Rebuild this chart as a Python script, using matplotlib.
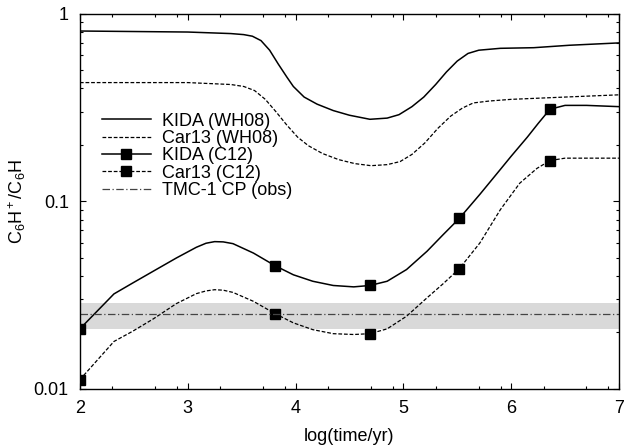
import matplotlib
matplotlib.use("Agg")
import matplotlib.pyplot as plt
import numpy as np
from matplotlib.ticker import FixedLocator, LogLocator, NullFormatter

plt.rcParams['font.family'] = ['Liberation Sans', 'DejaVu Sans']
plt.rcParams['mathtext.fontset'] = 'custom'
plt.rcParams['mathtext.rm'] = 'Liberation Sans'
plt.rcParams['mathtext.it'] = 'Liberation Sans'

# KIDA with WH08 network
kida_wh_x = [2.0, 3.0, 3.4, 3.52, 3.6, 3.68, 3.76, 3.84, 3.92, 3.98, 4.08, 4.2, 4.35, 4.5, 4.69,
             4.85, 4.96, 5.08, 5.19, 5.3, 5.40, 5.5, 5.6, 5.70, 5.9, 6.21, 6.54, 7.0]
kida_wh_y = [0.81, 0.80, 0.785, 0.775, 0.76, 0.72, 0.64, 0.54, 0.46, 0.41, 0.36, 0.33, 0.305, 0.288,
             0.274, 0.278, 0.29, 0.32, 0.36, 0.42, 0.49, 0.56, 0.615, 0.64, 0.655, 0.66, 0.68, 0.70]

# Car13 with WH08 network
car_wh_x = [2.0, 3.0, 3.4, 3.52, 3.62, 3.72, 3.82, 3.92, 4.02, 4.12, 4.25, 4.4, 4.55, 4.7, 4.85,
            4.97, 5.08, 5.2, 5.32, 5.44, 5.55, 5.65, 5.8, 6.0, 6.5, 7.0]
car_wh_y = [0.43, 0.43, 0.42, 0.41, 0.39, 0.35, 0.30, 0.255, 0.22, 0.198, 0.18, 0.167, 0.159, 0.155,
            0.157, 0.163, 0.178, 0.205, 0.245, 0.285, 0.315, 0.335, 0.343, 0.35, 0.36, 0.37]

# KIDA with C12 network
kida_c12_x = [2.0, 2.316, 2.49, 2.68, 2.895, 3.08, 3.17, 3.25, 3.33, 3.42, 3.61, 3.81, 3.98, 4.16,
              4.35, 4.54, 4.69, 4.85, 5.03, 5.22, 5.37, 5.52, 5.71, 5.90, 6.0, 6.15, 6.25, 6.36,
              6.5, 6.7, 7.0]
kida_c12_y = [0.0209, 0.0321, 0.0367, 0.0424, 0.0499, 0.0569, 0.0598, 0.0610, 0.0608, 0.0595, 0.0530,
              0.0454, 0.0406, 0.0375, 0.0356, 0.0350, 0.0356, 0.0375, 0.0433, 0.0542, 0.0665, 0.0812,
              0.109, 0.148, 0.174, 0.22, 0.26, 0.31, 0.325, 0.325, 0.32]
kida_c12_mark = [0, 11, 16, 21, 27]

# Car13 with C12 network
car_c12_x = [2.0, 2.316, 2.49, 2.68, 2.895, 3.08, 3.17, 3.25, 3.33, 3.42, 3.61, 3.81, 3.98, 4.16,
             4.35, 4.54, 4.69, 4.85, 5.03, 5.22, 5.37, 5.52, 5.71, 5.90, 6.08, 6.24, 6.36, 6.5, 7.0]
car_c12_y = [0.0112, 0.0179, 0.0203, 0.0236, 0.0285, 0.0322, 0.0333, 0.0338, 0.0336, 0.0327, 0.0293,
             0.0252, 0.0225, 0.0207, 0.0197, 0.0195, 0.0197, 0.0209, 0.0244, 0.0306, 0.0364, 0.0438,
             0.0600, 0.0903, 0.125, 0.150, 0.165, 0.17, 0.17]
car_c12_mark = [0, 11, 16, 21, 26]

# observed value in TMC-1 CP and its range
obs = 0.025
obs_lo = 0.0209
obs_hi = 0.0287

fig = plt.figure(figsize=(6.29, 4.47), dpi=100)
ax = fig.add_axes([0.127, 0.130, 0.857, 0.839])

ax.axhspan(obs_lo, obs_hi, color='#d9d9d9', lw=0, zorder=0)

ax.plot(kida_wh_x, kida_wh_y, 'k-', lw=1.1, label='KIDA (WH08)')
ax.plot(car_wh_x, car_wh_y, 'k--', lw=0.9, dashes=(3, 1.5), label='Car13 (WH08)')
ax.plot(kida_c12_x, kida_c12_y, 'k-', lw=1.1, marker='s', ms=7, markevery=kida_c12_mark,
        label='KIDA (C12)')
ax.plot(car_c12_x, car_c12_y, 'k--', lw=0.9, dashes=(3, 1.5), marker='s', ms=7,
        markevery=car_c12_mark, label='Car13 (C12)')
ax.axhline(obs, color='#444444', lw=0.9, dashes=(6, 2, 1, 2), label='TMC-1 CP (obs)')

ax.set_yscale('log')
ax.set_xlim(2, 7)
ax.set_ylim(0.01, 1)

ax.set_yticks([0.01, 0.1, 1])
ax.set_yticklabels(['0.01', '0.1', '1'])
ax.yaxis.set_minor_locator(LogLocator(base=10, subs=np.arange(2, 10)))
ax.yaxis.set_minor_formatter(NullFormatter())

ax.set_xticks([2, 3, 4, 5, 6, 7])
minor_x = [d + np.log10(s) for d in range(2, 7) for s in (2, 5, 8)]
ax.xaxis.set_minor_locator(FixedLocator(minor_x))

ax.tick_params(which='both', direction='in', top=True, right=True, labelsize=13, pad=8)
ax.tick_params(which='major', length=4.5, width=0.8)
ax.tick_params(which='minor', length=2.5, width=0.8)
for s in ax.spines.values():
    s.set_linewidth(1.0)

ax.set_xlabel('log(time/yr)', fontsize=13, labelpad=8)
ax.set_ylabel('C$_6$H$^+$/C$_6$H', fontsize=13, labelpad=4)

ax.legend(loc='upper left', bbox_to_anchor=(0.162, 0.748), bbox_transform=fig.transFigure,
          frameon=False, fontsize=13, handlelength=2.7, handletextpad=0.65,
          labelspacing=0.02, borderpad=0, borderaxespad=0)

fig.savefig('out.png', dpi=100)
